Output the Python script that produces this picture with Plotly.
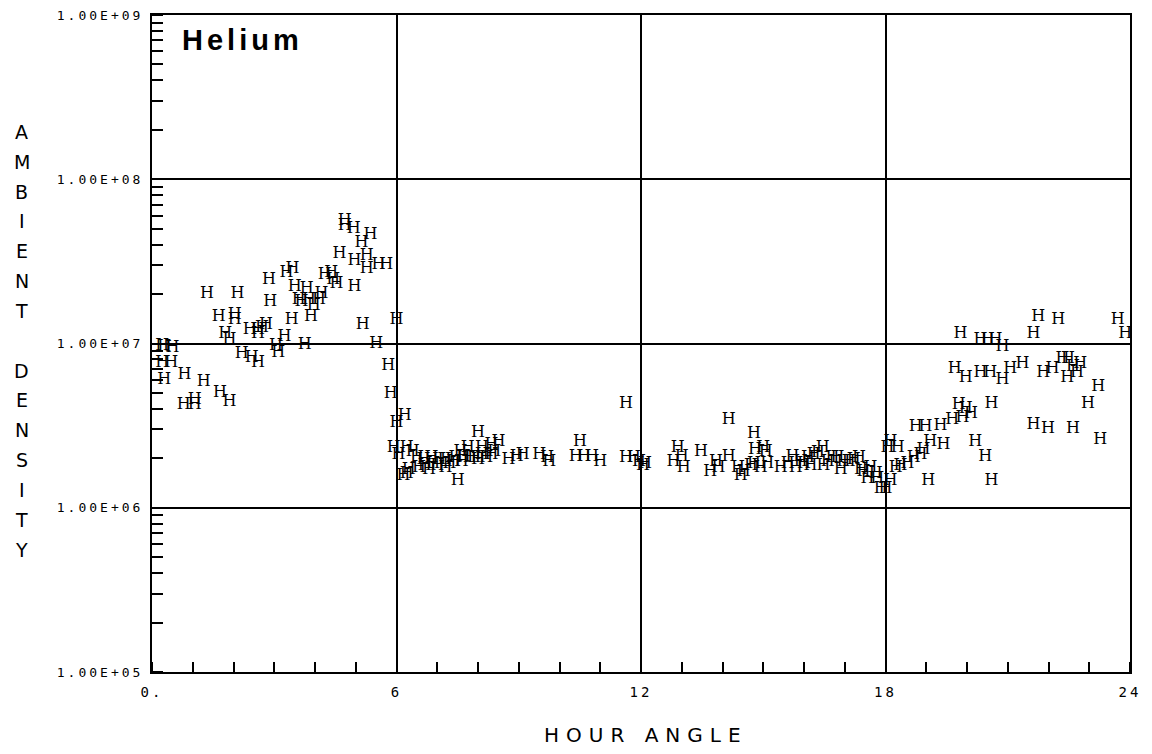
import plotly.graph_objects as go

# ---- data (hour angle, ambient helium density) ----
hours_a = [0.25, 0.3, 0.5, 0.25, 0.47, 0.3, 0.8, 1.27, 0.78, 1.05, 1.05, 1.67, 1.9,
           1.35, 2.1, 2.87, 2.9, 3.3, 3.45, 1.64, 2.03, 2.03, 1.8, 1.9, 2.4, 2.6, 2.7, 2.8, 2.6, 3.43, 3.9,
           3.5, 3.8, 3.6, 3.67, 3.85, 3.97, 4.1, 4.16,
           4.24, 4.4, 4.45, 4.53, 4.6, 4.73, 4.73, 4.95, 5.14, 5.36, 4.97, 5.27, 5.27, 5.56, 5.75,
           4.97, 5.17, 6.0, 5.5, 3.25, 3.04, 3.1, 3.75, 2.2, 2.45, 2.6, 5.8, 5.86]
dens_a = [9.7e6, 9.5e6, 9.4e6, 7.6e6, 7.6e6, 6.0e6, 6.4e6, 5.8e6, 4.2e6, 4.5e6, 4.2e6, 5.0e6, 4.4e6,
          2.0e7, 2.0e7, 2.45e7, 1.8e7, 2.7e7, 2.85e7, 1.45e7, 1.5e7, 1.4e7, 1.15e7, 1.05e7, 1.2e7, 1.2e7, 1.25e7, 1.3e7, 1.15e7, 1.4e7, 1.45e7,
          2.2e7, 2.15e7, 1.85e7, 1.8e7, 1.85e7, 1.7e7, 1.85e7, 2.0e7,
          2.6e7, 2.7e7, 2.45e7, 2.3e7, 3.5e7, 5.6e7, 5.2e7, 5.0e7, 4.1e7, 4.6e7, 3.2e7, 3.4e7, 2.85e7, 3.0e7, 3.0e7,
          2.2e7, 1.3e7, 1.4e7, 1.0e7, 1.1e7, 9.6e6, 8.7e6, 9.8e6, 8.6e6, 8.2e6, 7.6e6, 7.3e6, 4.9e6]

hours_b = [6.2, 6.0, 5.93, 6.05, 6.25, 6.4, 6.25, 6.3, 6.17, 6.5, 6.66, 6.69, 6.86, 6.9, 7.05, 7.18, 7.3,
           7.4, 7.45, 7.57, 7.75, 7.8, 7.9, 8.1, 8.1, 8.2, 8.33, 8.33, 8.5, 8.0, 7.5, 8.75, 8.95, 9.1,
           9.5, 9.7, 9.75, 10.5, 10.4, 10.6, 10.8, 11.0, 11.63, 11.63, 11.83, 11.95, 12.05,
           6.55, 6.8, 7.0, 7.2, 7.6, 7.65, 8.0, 8.4]
dens_b = [3.6e6, 3.3e6, 2.3e6, 2.1e6, 2.3e6, 2.2e6, 1.6e6, 1.7e6, 1.55e6, 2.0e6, 1.95e6, 1.8e6, 2.0e6, 1.85e6, 1.95e6, 1.95e6, 1.85e6,
          1.9e6, 2.0e6, 2.2e6, 2.3e6, 2.0e6, 2.0e6, 2.1e6, 2.3e6, 2.0e6, 2.1e6, 2.4e6, 2.5e6, 2.85e6, 1.45e6, 1.95e6, 2.05e6, 2.1e6,
          2.1e6, 2.0e6, 1.9e6, 2.5e6, 2.05e6, 2.05e6, 2.05e6, 1.9e6, 4.3e6, 2.0e6, 2.0e6, 1.9e6, 1.8e6,
          1.75e6, 1.7e6, 1.8e6, 1.75e6, 1.9e6, 2.05e6, 1.95e6, 2.2e6]

hours_c = [12.1, 14.15, 14.77, 12.9, 13.0, 12.8, 13.05, 13.47, 13.7, 13.84, 13.9, 14.15, 14.38, 14.45,
           14.52, 14.7, 14.77, 14.94, 15.1, 14.8, 15.0, 15.06, 15.43, 15.6, 15.72, 15.8, 15.92, 16.0,
           16.1, 16.16, 16.24, 16.34, 16.46, 16.48, 16.58, 16.7, 16.82, 16.9, 16.97, 17.1, 17.22, 17.35,
           17.4, 17.46, 17.56, 17.63, 17.76, 17.8, 17.88, 18.0, 18.12]
dens_c = [1.85e6, 3.4e6, 2.8e6, 2.3e6, 2.05e6, 1.9e6, 1.75e6, 2.2e6, 1.65e6, 1.9e6, 1.75e6, 2.05e6, 1.75e6, 1.55e6,
          1.65e6, 1.8e6, 1.85e6, 1.75e6, 1.85e6, 2.25e6, 2.3e6, 2.2e6, 1.75e6, 1.85e6, 2.05e6, 1.75e6, 1.9e6, 1.85e6,
          2.0e6, 1.8e6, 2.1e6, 2.15e6, 2.3e6, 1.8e6, 1.9e6, 2.0e6, 2.0e6, 1.7e6, 1.9e6, 1.9e6, 1.95e6, 2.0e6,
          1.7e6, 1.65e6, 1.5e6, 1.75e6, 1.6e6, 1.5e6, 1.3e6, 1.3e6, 1.45e6]

hours_d = [18.05, 18.12, 18.3, 18.25, 18.37, 18.54, 18.69, 18.86, 18.93, 19.1, 19.42, 18.74, 18.98, 19.35,
           19.64, 19.89, 19.8, 19.97, 20.1, 19.05, 20.2, 20.45, 20.6, 20.6, 19.7, 19.97, 20.33, 20.57,
           20.87, 21.06, 21.36, 19.84, 20.33, 20.5, 20.7, 20.87, 21.63, 21.75, 22.24, 21.87, 22.1, 22.34,
           22.48, 22.46, 22.78, 22.6, 22.7, 21.63, 21.99, 22.6, 23.22, 22.97, 23.27, 23.7, 23.88]
dens_d = [2.3e6, 2.5e6, 2.3e6, 1.75e6, 1.8e6, 1.85e6, 2.0e6, 2.1e6, 2.25e6, 2.5e6, 2.4e6, 3.1e6, 3.1e6, 3.15e6,
          3.4e6, 3.5e6, 4.2e6, 4.0e6, 3.7e6, 1.45e6, 2.5e6, 2.05e6, 1.45e6, 4.3e6, 7.0e6, 6.2e6, 6.6e6, 6.6e6,
          6.0e6, 7.0e6, 7.5e6, 1.15e7, 1.05e7, 1.05e7, 1.05e7, 9.5e6, 1.15e7, 1.45e7, 1.4e7, 6.6e6, 7.0e6, 8.0e6,
          8.1e6, 6.2e6, 7.5e6, 7.2e6, 6.6e6, 3.2e6, 3.0e6, 3.0e6, 5.4e6, 4.3e6, 2.6e6, 1.4e7, 1.15e7]

x_tickvals = [0, 6, 12, 18, 24]
x_ticktext = ["0.", "6", "12", "18", "24"]
y_tickvals = [1e5, 1e6, 1e7, 1e8, 1e9]
y_ticktext = ["1.00E+05", "1.00E+06", "1.00E+07", "1.00E+08", "1.00E+09"]

hours = hours_a + hours_b + hours_c + hours_d
dens = dens_a + dens_b + dens_c + dens_d

fig = go.Figure()
fig.add_trace(go.Scatter(
    x=hours, y=dens, mode="text", text=["H"] * len(hours),
    textposition="middle center",
    textfont=dict(family="DejaVu Serif", size=16, color="black"),
    showlegend=False, hoverinfo="skip"))

ls = "letter-spacing:3px"
fig.update_layout(
    width=1144, height=746,
    margin=dict(l=144, r=22, t=7, b=82),
    paper_bgcolor="white", plot_bgcolor="white",
    showlegend=False,
    xaxis=dict(
        range=[0, 24], tickvals=x_tickvals, automargin=False, ticklabeloverflow="allow",
        ticktext=[f'<span style="{ls}">{t}</span>' for t in x_ticktext],
        showgrid=True, gridcolor="black", gridwidth=1.5,
        showline=True, linecolor="black", linewidth=2, mirror=True,
        ticks="", zeroline=False, ticklabelstandoff=6,
        tickfont=dict(family="DejaVu Sans Mono", size=14, color="black"),
        minor=dict(dtick=1, ticks="inside", ticklen=10, tickcolor="black", tickwidth=1.5, showgrid=False),
    ),
    yaxis=dict(
        type="log", range=[5, 9], tickvals=y_tickvals, automargin=False, ticklabeloverflow="allow",
        ticktext=[f'<span style="{ls}">{t}</span>' for t in y_ticktext],
        showgrid=True, gridcolor="black", gridwidth=1.5,
        showline=True, linecolor="black", linewidth=2, mirror=True,
        ticks="", zeroline=False, ticklabelstandoff=4,
        tickfont=dict(family="DejaVu Sans Mono", size=13, color="black"),
        minor=dict(dtick="D1", ticks="inside", ticklen=11, tickcolor="black", tickwidth=1.5, showgrid=False),
    ),
)

# Helium label
fig.add_annotation(xref="paper", yref="paper", x=0.029, y=0.99, xanchor="left", yanchor="top",
                   text='<b><span style="letter-spacing:4px">Helium</span></b>', showarrow=False,
                   font=dict(family="Liberation Sans", size=29, color="black"))

# x-axis title
fig.add_annotation(xref="paper", yref="paper", x=0.505, y=-0.096, xanchor="center", yanchor="middle",
                   text='<span style="letter-spacing:7px">HOUR ANGLE</span>', showarrow=False,
                   font=dict(family="DejaVu Sans", size=20, color="black"))

# y-axis title, stacked letters
ytitle = "AMBIENT DENSITY"
for i, ch in enumerate(ytitle):
    if ch == " ":
        continue
    fig.add_annotation(xref="paper", yref="paper", x=-0.133, y=0.822 - i * 0.0454,
                       xanchor="center", yanchor="middle", text=ch, showarrow=False,
                       font=dict(family="DejaVu Sans", size=19, color="black"))

fig.write_html("out.html")
